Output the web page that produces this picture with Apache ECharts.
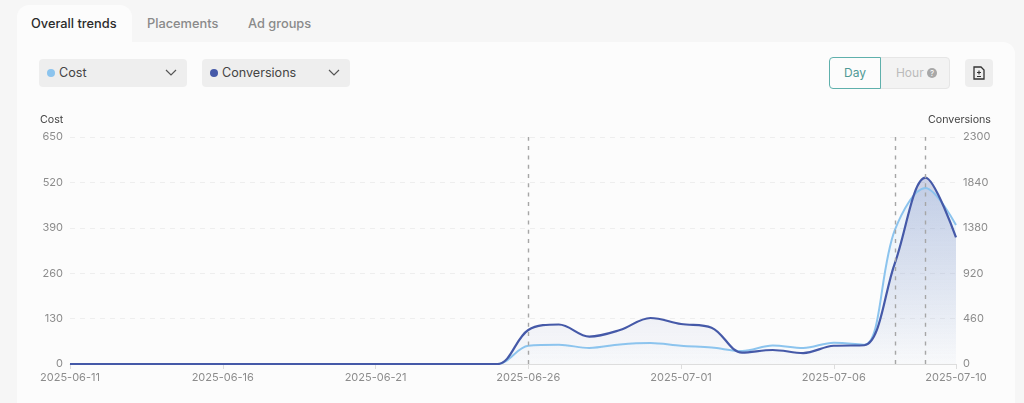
<!DOCTYPE html>
<html>
<head>
<meta charset="utf-8">
<title>Overall trends</title>
<script src="https://cdn.jsdelivr.net/npm/echarts@6/dist/echarts.min.js"></script>
<style>
html,body{margin:0;padding:0;background:#f6f6f6;font-family:Inter,"Noto Sans",sans-serif}
#page{position:relative;width:1024px;height:403px;overflow:hidden}
#panel{position:absolute;left:17px;top:42px;width:998px;height:380px;background:#fcfcfc;border-radius:12px}
#tabActive{position:absolute;left:17px;top:5px;width:115px;height:50px;background:#fcfcfc;border-radius:12px 12px 0 0}
.tab{position:absolute;top:15px;font-size:12.8px;font-weight:500;line-height:18px;color:#8a8a8a}
.sel{position:absolute;top:59px;height:28px;background:#eeeeee;border-radius:4px;font-size:12.6px;line-height:28px;color:#444}
.sel i{position:absolute;left:8px;top:10px;width:8px;height:8px;border-radius:50%}
.sel span{position:absolute;left:20px}
.sel svg{position:absolute;top:10px}
#main{position:absolute;left:0;top:0;width:1024px;height:403px}
.btn{position:absolute;top:57px;height:32px;box-sizing:border-box;font-size:12px;line-height:30px;text-align:center}
</style>
</head>
<body>
<div id="page">
  <div id="panel"></div>
  <div id="tabActive"></div>
  <div class="tab" style="left:31px;color:#2b2b2b">Overall trends</div>
  <div class="tab" style="left:147px">Placements</div>
  <div class="tab" style="left:248px">Ad groups</div>

  <div class="sel" style="left:39px;width:148px"><i style="background:#8cc4ee"></i><span>Cost</span>
    <svg style="left:126px" width="12" height="8" viewBox="0 0 12 8"><path d="M1 1l5 5 5-5" fill="none" stroke="#555" stroke-width="1.2"/></svg></div>
  <div class="sel" style="left:202px;width:148px"><i style="background:#4559a8"></i><span>Conversions</span>
    <svg style="left:126px" width="12" height="8" viewBox="0 0 12 8"><path d="M1 1l5 5 5-5" fill="none" stroke="#555" stroke-width="1.2"/></svg></div>

  <div class="btn" style="left:880px;width:70px;background:#f3f3f3;border:1px solid #e6e6e6;border-radius:0 4px 4px 0;color:#bbb;text-indent:3px">Hour <span style="display:inline-block;width:10px;height:10px;border-radius:50%;background:#a8a8a8;color:#fff;font-size:8px;line-height:10px;text-indent:0;vertical-align:1px">?</span></div>
  <div class="btn" style="left:829px;width:52px;background:#fcfcfc;border:1px solid #5fb0ac;border-radius:4px 0 0 4px;color:#4f9a96">Day</div>

  <div style="position:absolute;left:965px;top:59px;width:28px;height:28px;background:#eeeeee;border-radius:4px">
    <svg style="position:absolute;left:8px;top:7px" width="12" height="14" viewBox="0 0 12 14"><path d="M1 1h7l3 3v9H1z" fill="none" stroke="#333" stroke-width="1.3"/><path d="M6 4.5v4M4 6.5h4M4 10.5h4" stroke="#333" stroke-width="1.1"/></svg>
  </div>

  <div id="main"></div>
</div>

<script>
var dates = ['2025-06-11','2025-06-12','2025-06-13','2025-06-14','2025-06-15','2025-06-16','2025-06-17','2025-06-18','2025-06-19','2025-06-20',
	'2025-06-21','2025-06-22','2025-06-23','2025-06-24','2025-06-25','2025-06-26','2025-06-27','2025-06-28','2025-06-29','2025-06-30',
	'2025-07-01','2025-07-02','2025-07-03','2025-07-04','2025-07-05','2025-07-06','2025-07-07','2025-07-08','2025-07-09','2025-07-10']
var cost = [0,0,0,0,0,0,0,0,0,0,0,0,0,0,0,52,55,46,56,60,52,47,37,53,46,61,55,384,504,398]
var conversions = [0,0,0,0,0,0,0,0,0,0,0,0,0,0,0,344,400,277,344,466,405,368,115,142,111,185,190,1023,1888,1282]
var markedDates = ['2025-06-26','2025-07-08','2025-07-09']

var costColor = '#8cc4ee'
var convColor = '#4559a8'
var grey = '#8c8c8c'

var myChart = echarts.init(document.getElementById('main'), null, {renderer:'canvas'})

function labelled(i){ return i % 5 == 0 || i == dates.length-1 }
function plain(v){ return String(v) }

var option = {
	animation: false,
	textStyle: {fontFamily:'Inter'},
	grid: {left:70, right:68, top:137, bottom:39},
	xAxis: {
		type:'category',
		data: dates,
		boundaryGap:false,
		axisLine:{lineStyle:{color:'#dddddd'}},
		axisTick:{alignWithLabel:true, interval:labelled, lineStyle:{color:'#dddddd'}},
		axisLabel:{interval:labelled, color:grey, fontSize:11, margin:8, hideOverlap:false},
		splitLine:{show:false}
	},
	yAxis: [{
		type:'value', min:0, max:650, interval:130,
		name:'Cost', nameLocation:'end', nameGap:12,
		nameTextStyle:{color:'#444444', fontSize:10.7, align:'left', padding:[0,0,0,-30]},
		axisLabel:{color:grey, fontSize:11, margin:7, formatter:plain, padding:[3,0,0,0]},
		axisLine:{show:false}, axisTick:{show:false},
		splitLine:{lineStyle:{color:'#eeeeee', type:[5,5]}}
	},{
		type:'value', min:0, max:2300, interval:460,
		name:'Conversions', nameLocation:'end', nameGap:12,
		nameTextStyle:{color:'#444444', fontSize:10.7, align:'right', padding:[0,-35,0,0]},
		axisLabel:{color:grey, fontSize:11, margin:7, formatter:plain, padding:[3,0,0,0]},
		axisLine:{show:false}, axisTick:{show:false},
		splitLine:{show:false}
	}],
	series: [{
		name:'Cost', type:'line', yAxisIndex:0, data:cost,
		smooth:0.35, showSymbol:false,
		lineStyle:{color:costColor, width:2},
		areaStyle:{color:new echarts.graphic.LinearGradient(0,0,0,1,[
			{offset:0,color:'rgba(140,196,238,0.22)'},{offset:1,color:'rgba(140,196,238,0.02)'}])}
	},{
		name:'Conversions', type:'line', yAxisIndex:1, data:conversions,
		smooth:0.35, showSymbol:false,
		lineStyle:{color:convColor, width:2.2},
		areaStyle:{color:new echarts.graphic.LinearGradient(0,0,0,1,[
			{offset:0,color:'rgba(69,89,168,0.36)'},{offset:1,color:'rgba(69,89,168,0.02)'}])},
		markLine:{
			silent:true, symbol:'none', label:{show:false},
			lineStyle:{color:'#a6a6a6', type:[4,5.3], width:1.4},
			data: markedDates.map(d => ({xAxis:d}))
		}
	}]
}

option && myChart.setOption(option)
</script>
</body>
</html>
